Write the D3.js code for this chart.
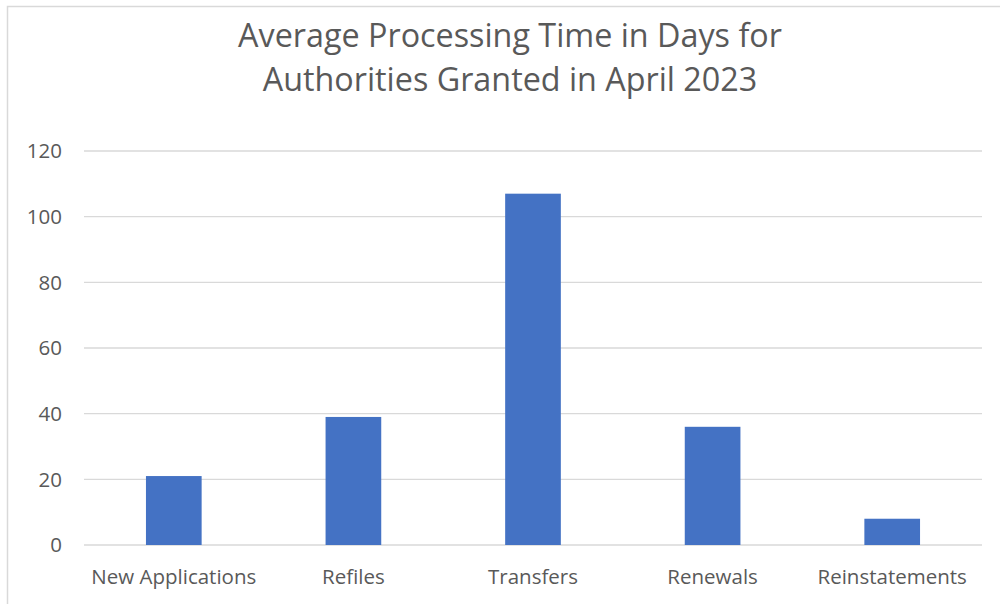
<!DOCTYPE html>
<html><head><meta charset="utf-8">
<script src="https://cdn.jsdelivr.net/npm/d3@7"></script>
<style>body{margin:0;background:#fff;}svg{display:block;}</style>
</head><body>
<svg id="c" width="1000" height="604"></svg>
<script>
const categories = ["New Applications","Refiles","Transfers","Renewals","Reinstatements"];
const values = [21, 39, 107, 36, 8];
const yTicks = [0,20,40,60,80,100,120];
const titleLines = ["Average Processing Time in Days for","Authorities Granted in April 2023"];

const svg = d3.select("#c");
const font = "'Open Sans', 'Liberation Sans', sans-serif";
// outer border
svg.append("rect").attr("x",7.5).attr("y",6.5).attr("width",1100).attr("height",700)
  .attr("fill","none").attr("stroke","#d9d9d9").attr("stroke-width",1.5);

const x = d3.scaleBand().domain(categories).range([84,982]).paddingInner(0.69).paddingOuter(0.345);
const y = d3.scaleLinear().domain([0,120]).range([545,151]);

svg.append("g").selectAll("line").data(yTicks).join("line")
  .attr("x1",84).attr("x2",982).attr("y1",d=>y(d)).attr("y2",d=>y(d))
  .attr("stroke","#d9d9d9").attr("stroke-width",1.3);

svg.append("g").selectAll("text").data(yTicks).join("text")
  .attr("x",62).attr("y",d=>y(d)).attr("dy","0.35em").attr("text-anchor","end")
  .attr("font-family",font).attr("font-size",20.5).attr("fill","#595959").text(d=>d);

svg.append("g").selectAll("rect").data(values).join("rect")
  .attr("x",(d,i)=>x(categories[i])).attr("width",x.bandwidth())
  .attr("y",d=>y(d)).attr("height",d=>y(0)-y(d)).attr("fill","#4472C4");

svg.append("g").selectAll("text").data(categories).join("text")
  .attr("x",d=>x(d)+x.bandwidth()/2).attr("y",584).attr("text-anchor","middle")
  .attr("font-family",font).attr("font-size",20.5).attr("fill","#595959").text(d=>d);

svg.append("g").selectAll("text").data(titleLines).join("text")
  .attr("x",510).attr("y",(d,i)=>47+i*44).attr("text-anchor","middle")
  .attr("font-family",font).attr("font-size",32.3).attr("fill","#595959").text(d=>d);
</script>
</body></html>
